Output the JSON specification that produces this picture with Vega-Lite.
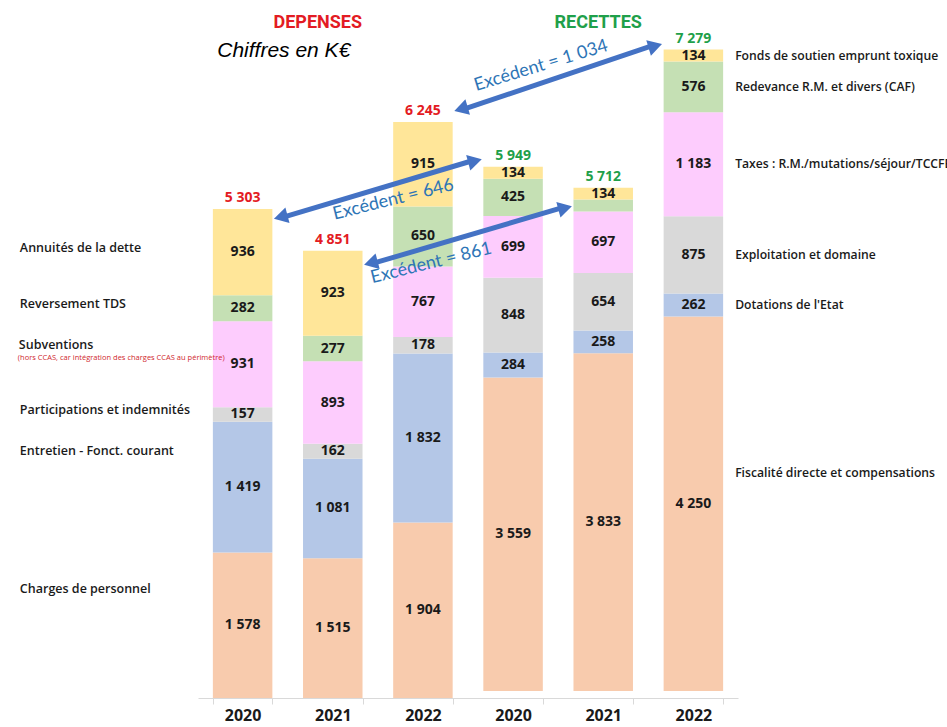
{
  "$schema": "https://vega.github.io/schema/vega-lite/v6.json",
  "width": 540,
  "height": 698,
  "autosize": "none",
  "padding": {"left": 198, "top": 0, "right": 209, "bottom": 29},
  "background": "white",
  "config": {
    "view": {"stroke": null},
    "locale": {"number": {"decimal": ",", "thousands": "\u00a0", "grouping": [3], "currency": ["", "\u00a0€"]}}
  },
  "datasets": {
    "postes": [
      {"groupe": "Dépenses", "col": "D2020", "rang": 1, "poste": "Charges de personnel", "val": 1578},
      {"groupe": "Dépenses", "col": "D2020", "rang": 2, "poste": "Entretien - Fonct. courant", "val": 1419},
      {"groupe": "Dépenses", "col": "D2020", "rang": 3, "poste": "Participations et indemnités", "val": 157},
      {"groupe": "Dépenses", "col": "D2020", "rang": 4, "poste": "Subventions", "val": 931},
      {"groupe": "Dépenses", "col": "D2020", "rang": 5, "poste": "Reversement TDS", "val": 282},
      {"groupe": "Dépenses", "col": "D2020", "rang": 6, "poste": "Annuités de la dette", "val": 936},
      {"groupe": "Dépenses", "col": "D2021", "rang": 1, "poste": "Charges de personnel", "val": 1515},
      {"groupe": "Dépenses", "col": "D2021", "rang": 2, "poste": "Entretien - Fonct. courant", "val": 1081},
      {"groupe": "Dépenses", "col": "D2021", "rang": 3, "poste": "Participations et indemnités", "val": 162},
      {"groupe": "Dépenses", "col": "D2021", "rang": 4, "poste": "Subventions", "val": 893},
      {"groupe": "Dépenses", "col": "D2021", "rang": 5, "poste": "Reversement TDS", "val": 277},
      {"groupe": "Dépenses", "col": "D2021", "rang": 6, "poste": "Annuités de la dette", "val": 923},
      {"groupe": "Dépenses", "col": "D2022", "rang": 1, "poste": "Charges de personnel", "val": 1904},
      {"groupe": "Dépenses", "col": "D2022", "rang": 2, "poste": "Entretien - Fonct. courant", "val": 1832},
      {"groupe": "Dépenses", "col": "D2022", "rang": 3, "poste": "Participations et indemnités", "val": 178},
      {"groupe": "Dépenses", "col": "D2022", "rang": 4, "poste": "Subventions", "val": 767},
      {"groupe": "Dépenses", "col": "D2022", "rang": 5, "poste": "Reversement TDS", "val": 650},
      {"groupe": "Dépenses", "col": "D2022", "rang": 6, "poste": "Annuités de la dette", "val": 915},
      {"groupe": "Recettes", "col": "R2020", "rang": 1, "poste": "Fiscalité directe et compensations", "val": 3559},
      {"groupe": "Recettes", "col": "R2020", "rang": 2, "poste": "Dotations  de l'Etat", "val": 284},
      {"groupe": "Recettes", "col": "R2020", "rang": 3, "poste": "Exploitation et domaine", "val": 848},
      {"groupe": "Recettes", "col": "R2020", "rang": 4, "poste": "Taxes : R.M./mutations/séjour/TCCFE", "val": 699},
      {"groupe": "Recettes", "col": "R2020", "rang": 5, "poste": "Redevance R.M. et divers (CAF)", "val": 425},
      {"groupe": "Recettes", "col": "R2020", "rang": 6, "poste": "Fonds de soutien emprunt toxique", "val": 134},
      {"groupe": "Recettes", "col": "R2021", "rang": 1, "poste": "Fiscalité directe et compensations", "val": 3833},
      {"groupe": "Recettes", "col": "R2021", "rang": 2, "poste": "Dotations  de l'Etat", "val": 258},
      {"groupe": "Recettes", "col": "R2021", "rang": 3, "poste": "Exploitation et domaine", "val": 654},
      {"groupe": "Recettes", "col": "R2021", "rang": 4, "poste": "Taxes : R.M./mutations/séjour/TCCFE", "val": 697},
      {"groupe": "Recettes", "col": "R2021", "rang": 5, "poste": "Redevance R.M. et divers (CAF)", "val": 136},
      {"groupe": "Recettes", "col": "R2021", "rang": 6, "poste": "Fonds de soutien emprunt toxique", "val": 134},
      {"groupe": "Recettes", "col": "R2022", "rang": 1, "poste": "Fiscalité directe et compensations", "val": 4250},
      {"groupe": "Recettes", "col": "R2022", "rang": 2, "poste": "Dotations  de l'Etat", "val": 262},
      {"groupe": "Recettes", "col": "R2022", "rang": 3, "poste": "Exploitation et domaine", "val": 875},
      {"groupe": "Recettes", "col": "R2022", "rang": 4, "poste": "Taxes : R.M./mutations/séjour/TCCFE", "val": 1183},
      {"groupe": "Recettes", "col": "R2022", "rang": 5, "poste": "Redevance R.M. et divers (CAF)", "val": 576},
      {"groupe": "Recettes", "col": "R2022", "rang": 6, "poste": "Fonds de soutien emprunt toxique", "val": 134}
    ],
    "totaux": [
      {"groupe": "Dépenses", "col": "D2020", "total": 5303},
      {"groupe": "Dépenses", "col": "D2021", "total": 4851},
      {"groupe": "Dépenses", "col": "D2022", "total": 6245},
      {"groupe": "Recettes", "col": "R2020", "total": 5949},
      {"groupe": "Recettes", "col": "R2021", "total": 5712},
      {"groupe": "Recettes", "col": "R2022", "total": 7279}
    ],
    "fleches": [
      {"de": "D2020", "vers": "R2020", "depart": 5217, "arrivee": 5824, "excedent": 646},
      {"de": "D2021", "vers": "R2021", "depart": 4718, "arrivee": 5315, "excedent": 861},
      {"de": "D2022", "vers": "R2022", "depart": 6388, "arrivee": 7072, "excedent": 1034}
    ]
  },
  "layer": [
    {
      "layer": [
        {
          "data": {"name": "postes"},
          "transform": [
            {"filter": "datum.groupe == 'Dépenses'"},
            {"stack": "val", "groupby": ["col"], "sort": [{"field": "rang", "order": "ascending"}], "as": ["v0", "v1"]},
            {"calculate": "(datum.v0 + datum.v1) / 2", "as": "mid"}
          ],
          "layer": [
            {
              "mark": {"type": "bar"},
              "encoding": {
                "x": {
                  "field": "col", "type": "nominal", "title": null,
                  "scale": {"domain": ["D2020", "D2021", "D2022", "R2020", "R2021", "R2022"], "paddingInner": 0.34, "paddingOuter": 0.165},
                  "axis": {"labelExpr": "slice(datum.label, 1)", "labelAngle": 0, "labelFont": "Open Sans", "labelFontSize": 16, "labelFontWeight": "bold", "labelColor": "#1a1a1a", "labelPadding": 3, "domainColor": "#d9d9d9", "tickColor": "#d9d9d9", "tickBand": "extent", "tickSize": 6, "grid": false, "title": null}
                },
                "y": {"field": "v0", "type": "quantitative", "scale": {"domain": [0, 7570], "nice": false, "zero": false}, "axis": null},
                "y2": {"field": "v1"},
                "color": {"field": "rang", "type": "ordinal", "scale": {"domain": [1, 2, 3, 4, 5, 6], "range": ["#f8cbad", "#b4c7e7", "#d9d9d9", "#fdccfd", "#c5e0b4", "#ffe699"]}, "legend": null}
              }
            },
            {
              "mark": {"type": "text", "font": "Open Sans", "fontSize": 14, "fontWeight": "bold", "color": "#1a1a1a"},
              "encoding": {
                "x": {"field": "col", "type": "nominal", "title": null},
                "y": {"field": "mid", "type": "quantitative", "scale": {"domain": [0, 7570], "nice": false, "zero": false}, "axis": null},
                "text": {"field": "val", "type": "quantitative", "format": ",d"}
              }
            },
            {
              "transform": [{"filter": "datum.col == 'D2020' && (datum.rang == 6 || datum.rang == 5 || datum.rang == 3)"}],
              "mark": {"type": "text", "align": "left", "dx": -193, "dy": -4, "font": "Open Sans", "fontSize": 12.5, "fontWeight": 600, "color": "#1a1a1a"},
              "encoding": {
                "x": {"field": "col", "type": "nominal", "bandPosition": 0, "title": null},
                "y": {"field": "mid", "type": "quantitative", "scale": {"domain": [0, 7570], "nice": false, "zero": false}, "axis": null},
                "text": {"field": "poste"}
              }
            },
            {
              "transform": [{"filter": "datum.col == 'D2020' && datum.rang <= 2"}],
              "mark": {"type": "text", "align": "left", "dx": -193, "dy": -36, "font": "Open Sans", "fontSize": 12.5, "fontWeight": 600, "color": "#1a1a1a"},
              "encoding": {
                "x": {"field": "col", "type": "nominal", "bandPosition": 0, "title": null},
                "y": {"field": "mid", "type": "quantitative", "scale": {"domain": [0, 7570], "nice": false, "zero": false}, "axis": null},
                "text": {"field": "poste"}
              }
            },
            {
              "transform": [{"filter": "datum.col == 'D2020' && datum.rang == 4"}],
              "mark": {"type": "text", "align": "left", "dx": -194, "dy": -19, "font": "Open Sans", "fontSize": 12.5, "fontWeight": 600, "color": "#1a1a1a"},
              "encoding": {
                "x": {"field": "col", "type": "nominal", "bandPosition": 0, "title": null},
                "y": {"field": "mid", "type": "quantitative", "scale": {"domain": [0, 7570], "nice": false, "zero": false}, "axis": null},
                "text": {"field": "poste"}
              }
            },
            {
              "transform": [{"filter": "datum.col == 'D2020' && datum.rang == 4"}],
              "mark": {"type": "text", "align": "left", "dx": -195, "dy": -6, "font": "Open Sans", "fontSize": 7.5, "color": "#d0282e", "text": "(hors CCAS, car intégration  des charges CCAS au périmètre)"},
              "encoding": {
                "x": {"field": "col", "type": "nominal", "bandPosition": 0, "title": null},
                "y": {"field": "mid", "type": "quantitative", "scale": {"domain": [0, 7570], "nice": false, "zero": false}, "axis": null}
              }
            }
          ]
        },
        {
          "data": {"name": "totaux"},
          "transform": [{"filter": "datum.groupe == 'Dépenses'"}],
          "mark": {"type": "text", "baseline": "alphabetic", "dy": -7, "font": "Open Sans", "fontSize": 14, "fontWeight": "bold", "color": "#e31b23"},
          "encoding": {
            "x": {"field": "col", "type": "nominal", "title": null},
            "y": {"field": "total", "type": "quantitative", "scale": {"domain": [0, 7570], "nice": false, "zero": false}, "axis": null},
            "text": {"field": "total", "type": "quantitative", "format": ",d"}
          }
        }
      ]
    },
    {
      "layer": [
        {
          "data": {"name": "postes"},
          "transform": [
            {"filter": "datum.groupe == 'Recettes'"},
            {"stack": "val", "groupby": ["col"], "sort": [{"field": "rang", "order": "ascending"}], "as": ["v0", "v1"]},
            {"calculate": "(datum.v0 + datum.v1) / 2", "as": "mid"}
          ],
          "layer": [
            {
              "mark": {"type": "bar"},
              "encoding": {
                "x": {"field": "col", "type": "nominal", "title": null},
                "y": {"field": "v0", "type": "quantitative", "scale": {"domain": [-80, 7843], "nice": false, "zero": false}, "axis": null},
                "y2": {"field": "v1"},
                "color": {"field": "rang", "type": "ordinal", "scale": {"domain": [1, 2, 3, 4, 5, 6], "range": ["#f8cbad", "#b4c7e7", "#d9d9d9", "#fdccfd", "#c5e0b4", "#ffe699"]}, "legend": null}
              }
            },
            {
              "transform": [{"filter": "!(datum.col == 'R2021' && datum.rang == 5)"}],
              "mark": {"type": "text", "font": "Open Sans", "fontSize": 14, "fontWeight": "bold", "color": "#1a1a1a"},
              "encoding": {
                "x": {"field": "col", "type": "nominal", "title": null},
                "y": {"field": "mid", "type": "quantitative", "scale": {"domain": [-80, 7843], "nice": false, "zero": false}, "axis": null},
                "text": {"field": "val", "type": "quantitative", "format": ",d"}
              }
            },
            {
              "transform": [{"filter": "datum.col == 'R2022' && datum.rang >= 2"}],
              "mark": {"type": "text", "align": "left", "dx": 12, "dy": 0, "font": "Open Sans", "fontSize": 12.2, "fontWeight": 600, "color": "#1a1a1a"},
              "encoding": {
                "x": {"field": "col", "type": "nominal", "bandPosition": 1, "title": null},
                "y": {"field": "mid", "type": "quantitative", "scale": {"domain": [-80, 7843], "nice": false, "zero": false}, "axis": null},
                "text": {"field": "poste"}
              }
            },
            {
              "transform": [{"filter": "datum.col == 'R2022' && datum.rang == 1"}],
              "mark": {"type": "text", "align": "left", "dx": 12, "dy": -31, "font": "Open Sans", "fontSize": 12.2, "fontWeight": 600, "color": "#1a1a1a"},
              "encoding": {
                "x": {"field": "col", "type": "nominal", "bandPosition": 1, "title": null},
                "y": {"field": "mid", "type": "quantitative", "scale": {"domain": [-80, 7843], "nice": false, "zero": false}, "axis": null},
                "text": {"field": "poste"}
              }
            }
          ]
        },
        {
          "data": {"name": "totaux"},
          "transform": [{"filter": "datum.groupe == 'Recettes'"}],
          "mark": {"type": "text", "baseline": "alphabetic", "dy": -7, "font": "Open Sans", "fontSize": 14, "fontWeight": "bold", "color": "#1fa04a"},
          "encoding": {
            "x": {"field": "col", "type": "nominal", "title": null},
            "y": {"field": "total", "type": "quantitative", "scale": {"domain": [-80, 7843], "nice": false, "zero": false}, "axis": null},
            "text": {"field": "total", "type": "quantitative", "format": ",d"}
          }
        }
      ]
    },
    {
      "layer": [
        {
          "data": {"name": "fleches"},
          "layer": [
            {
              "mark": {"type": "rule", "color": "#4472c4", "strokeWidth": 5},
              "encoding": {
                "x": {"field": "de", "type": "nominal", "bandPosition": 1.2, "title": null},
                "x2": {"field": "vers", "bandPosition": -0.2},
                "y": {"field": "depart", "type": "quantitative", "scale": {"domain": [0, 7570], "nice": false, "zero": false}, "axis": null},
                "y2": {"field": "arrivee"}
              }
            },
            {
              "mark": {"type": "point", "shape": "triangle-left", "filled": true, "opacity": 1, "color": "#4472c4", "size": 260},
              "encoding": {
                "x": {"field": "de", "type": "nominal", "bandPosition": 1.14, "title": null},
                "y": {"field": "depart", "type": "quantitative", "scale": {"domain": [0, 7570], "nice": false, "zero": false}, "axis": null},
                "angle": {"condition": {"test": "datum.excedent == 1034", "value": 343.4}, "value": 345.2}
              }
            },
            {
              "mark": {"type": "point", "shape": "triangle-right", "filled": true, "opacity": 1, "color": "#4472c4", "size": 260},
              "encoding": {
                "x": {"field": "vers", "type": "nominal", "bandPosition": -0.14, "title": null},
                "y": {"field": "arrivee", "type": "quantitative", "scale": {"domain": [0, 7570], "nice": false, "zero": false}, "axis": null},
                "angle": {"condition": {"test": "datum.excedent == 1034", "value": 343.4}, "value": 345.2}
              }
            }
          ]
        },
        {
          "data": {"values": [{}]},
          "mark": {"type": "text", "text": "Excédent = 646", "font": "Lato", "fontSize": 18, "color": "#2e75b6", "angle": 346, "dx": 58.2, "dy": 16.5},
          "encoding": {
            "x": {"datum": "D2021", "type": "nominal", "title": null},
            "y": {"datum": 5423, "type": "quantitative", "scale": {"domain": [0, 7570], "nice": false, "zero": false}, "axis": null}
          }
        },
        {
          "data": {"values": [{}]},
          "mark": {"type": "text", "text": "Excédent = 861", "font": "Lato", "fontSize": 18, "color": "#2e75b6", "angle": 346, "dx": 7.7, "dy": 3.4},
          "encoding": {
            "x": {"datum": "D2022", "type": "nominal", "title": null},
            "y": {"datum": 4729, "type": "quantitative", "scale": {"domain": [0, 7570], "nice": false, "zero": false}, "axis": null}
          }
        },
        {
          "data": {"values": [{}]},
          "mark": {"type": "text", "text": "Excédent = 1 034", "font": "Lato", "fontSize": 18, "color": "#2e75b6", "angle": 343, "dx": 26.8, "dy": 8.2},
          "encoding": {
            "x": {"datum": "R2020", "type": "nominal", "title": null},
            "y": {"datum": 6855, "type": "quantitative", "scale": {"domain": [0, 7570], "nice": false, "zero": false}, "axis": null}
          }
        },
        {
          "data": {"values": [{}]},
          "mark": {"type": "text", "text": "DEPENSES", "font": "Liberation Sans Narrow, Roboto, sans-serif", "fontSize": 18, "fontWeight": "bold", "color": "#e31b23", "dx": -15},
          "encoding": {
            "x": {"datum": "D2021", "type": "nominal", "title": null},
            "y": {"datum": 7321, "type": "quantitative", "scale": {"domain": [0, 7570], "nice": false, "zero": false}, "axis": null}
          }
        },
        {
          "data": {"values": [{}]},
          "mark": {"type": "text", "text": "RECETTES", "font": "Liberation Sans Narrow, Roboto, sans-serif", "fontSize": 18, "fontWeight": "bold", "color": "#1fa04a", "dx": -5},
          "encoding": {
            "x": {"datum": "R2021", "type": "nominal", "title": null},
            "y": {"datum": 7321, "type": "quantitative", "scale": {"domain": [0, 7570], "nice": false, "zero": false}, "axis": null}
          }
        },
        {
          "data": {"values": [{}]},
          "mark": {"type": "text", "text": "Chiffres en K€", "font": "Liberation Sans", "fontSize": 21, "fontStyle": "italic", "color": "#000000", "dx": -49},
          "encoding": {
            "x": {"datum": "D2021", "type": "nominal", "title": null},
            "y": {"datum": 7017, "type": "quantitative", "scale": {"domain": [0, 7570], "nice": false, "zero": false}, "axis": null}
          }
        }
      ]
    }
  ],
  "resolve": {"scale": {"y": "independent"}}
}
